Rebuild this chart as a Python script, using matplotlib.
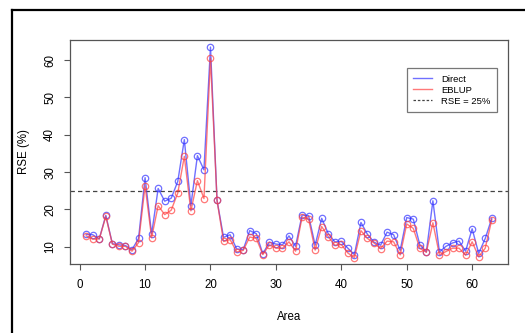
import matplotlib
matplotlib.use("Agg")
import matplotlib.pyplot as plt
from matplotlib.lines import Line2D

plt.rcParams['font.family'] = ['Liberation Sans', 'DejaVu Sans']

areas = list(range(1, 64))

rse_direct = [13.3, 13.2, 12.1, 18.4, 10.8, 10.5, 10.3, 9.2, 12.2, 28.5,
              13.4, 25.6, 22.2, 23.0, 27.5, 38.7, 21.0, 34.4, 30.6, 63.5,
              22.4, 12.5, 13.2, 9.4, 9.2, 14.3, 13.5, 8.1, 11.2, 10.7,
              10.5, 12.9, 10.1, 18.5, 18.3, 10.4, 17.6, 13.5, 11.3, 11.4,
              9.6, 7.9, 16.5, 13.3, 11.2, 10.4, 13.9, 13.2, 9.0, 17.8,
              17.4, 10.5, 8.6, 22.3, 8.6, 10.1, 11.0, 11.5, 8.8, 14.8,
              8.2, 12.2, 17.6]

rse_eblup = [12.9, 12.0, 12.1, 18.1, 10.7, 10.1, 10.1, 8.8, 11.1, 26.3,
             12.4, 21.0, 18.6, 19.8, 24.4, 34.2, 19.6, 27.7, 22.9, 60.5,
             22.4, 11.4, 11.9, 8.6, 9.0, 12.6, 12.2, 7.9, 10.5, 9.6,
             9.6, 11.3, 8.8, 17.9, 17.4, 9.1, 15.4, 12.7, 10.4, 10.6,
             8.3, 7.1, 14.3, 12.2, 11.0, 9.5, 11.5, 11.3, 7.8, 16.1,
             14.9, 9.6, 8.5, 16.4, 7.8, 8.7, 9.6, 9.6, 7.7, 11.3,
             7.3, 9.6, 17.2]

threshold = 25
x_ticks = [0, 10, 20, 30, 40, 50, 60]
y_ticks = [10, 20, 30, 40, 50, 60]

fig = plt.figure(figsize=(5.25, 3.33), dpi=100)
ax = fig.add_axes([0.1333, 0.2072, 0.8343, 0.6727])

blue = (0.2, 0.2, 1.0, 0.7)
red = (1.0, 0.25, 0.25, 0.7)

ax.plot(areas, rse_direct, color=blue, lw=1.0, marker='o', ms=4.6,
        mfc='none', mec=blue, mew=0.9, zorder=3)
ax.plot(areas, rse_eblup, color=red, lw=1.0, marker='o', ms=4.6,
        mfc='none', mec=red, mew=0.9, zorder=4)
ax.axhline(threshold, color='#444444', lw=0.9, ls=(0, (3.5, 2.5)), zorder=2)

ax.set_xlim(-1.48, 65.48)
ax.set_ylim(5.36, 65.4)
ax.set_xticks(x_ticks)
ax.set_yticks(y_ticks)
ax.set_yticklabels([str(v) for v in y_ticks], rotation=90, va='center')
ax.tick_params(axis='both', labelsize=8.3, length=4.5, width=0.8,
               color='#555555', direction='out')
ax.tick_params(axis='x', pad=6)
ax.tick_params(axis='y', pad=5.5)
for side in ax.spines.values():
    side.set_color('#555555')
    side.set_linewidth(0.9)

ax.set_xlabel('Area', fontsize=8.3, labelpad=15)
ax.set_ylabel('RSE (%)', fontsize=8.3, labelpad=10)

handles = [Line2D([], [], color=blue, lw=1.0),
           Line2D([], [], color=red, lw=1.0),
           Line2D([], [], color='#444444', lw=0.9, ls=(0, (2, 1.5)))]
leg = ax.legend(handles, ['Direct', 'EBLUP', 'RSE = 25%'],
                loc='upper left', bbox_to_anchor=(0.769, 0.875),
                borderaxespad=0, fontsize=6.8, frameon=True, fancybox=False,
                handlelength=2.0, handletextpad=0.9, borderpad=0.7,
                labelspacing=0.22)
leg.get_frame().set_edgecolor('#555555')
leg.get_frame().set_linewidth(0.9)

# outer frame lines along the left and top edges
fig.add_artist(Line2D([12 / 525, 12 / 525], [0, 1 - 10 / 333],
                      transform=fig.transFigure, color='black', lw=1.6))
fig.add_artist(Line2D([12 / 525, 1], [1 - 10 / 333, 1 - 10 / 333],
                      transform=fig.transFigure, color='black', lw=1.6))

fig.savefig('out.png', dpi=100)
